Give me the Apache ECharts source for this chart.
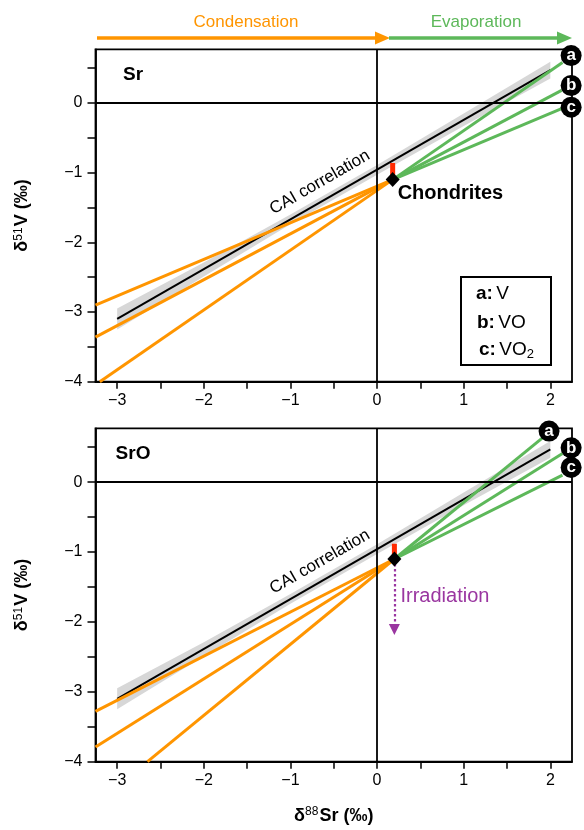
<!DOCTYPE html>
<html><head><meta charset="utf-8">
<script src="https://cdn.jsdelivr.net/npm/echarts@6/dist/echarts.min.js"></script>
<style>html,body{margin:0;padding:0;background:#fff}#c{width:584px;height:830px}</style>
</head><body><div id="c"></div>
<script>
const FONT = '"Liberation Sans", Arial, Helvetica, sans-serif';

// ---- tick values ----
const xTickLabels = [-3, -2, -1, 0, 1, 2];
const xTicks = [-3, -2.5, -2, -1.5, -1, -0.5, 0, 0.5, 1, 1.5, 2];
const yTickLabels = [-4, -3, -2, -1, 0];
const yTicks = [-4, -3.5, -3, -2.5, -2, -1.5, -1, -0.5, 0, 0.5];
const speciesNames = ['a', 'b', 'c'];
const legendNames = ['V', 'VO', 'VO2'];

// ---- CAI correlation (same in both panels) ----
const caiX = [-3, 2];
const caiY = [-3.1, 0.47];
const caiBandX = [-3, -2, -1, 0, 1, 2];
const caiBandUpper = [-2.95, -2.29, -1.60, -0.89, -0.15, 0.59];
const caiBandLower = [-3.25, -2.49, -1.74, -1.03, -0.33, 0.35];

// ---- Sr panel ----
const srChondrite = [0.18, -1.10];
const srBarTop = -0.86;
const srCondEndX = [-3.2, -3.25, -3.25];
const srCondEndY = [-4.0, -3.36, -2.90];
const srEvapEndX = [2.14, 2.13, 2.13];
const srEvapEndY = [0.58, 0.18, -0.08];
const srTagX = [2.24, 2.24, 2.24];
const srTagY = [0.68, 0.25, -0.06];

// ---- SrO panel ----
const sroChondrite = [0.20, -1.10];
const sroBarTop = -0.88;
const sroCondEndX = [-2.65, -3.25, -3.25];
const sroCondEndY = [-4.0, -3.79, -3.28];
const sroEvapEndX = [1.92, 2.14, 2.14];
const sroEvapEndY = [0.645, 0.41, 0.10];
const sroTagX = [1.985, 2.24, 2.24];
const sroTagY = [0.73, 0.49, 0.21];
const sroIrradiationEnd = -2.11;

const ORANGE = '#FF9500', GREEN = '#5DB85A', RED = '#FF2A00', PURPLE = '#9A36A0', BAND = '#D7D7D7';

const minus = v => String(v).replace('-', '\u2212');

function xAxisCfg(i, withName) {
  return {
    type: 'value', gridIndex: i, min: -3.25, max: 2.25,
    splitLine: { show: false },
    axisLine: { show: true, onZero: false, lineStyle: { color: '#000', width: 1.8 } },
    axisTick: { show: true, length: 7, customValues: xTicks, lineStyle: { color: '#000', width: 1.5 } },
    axisLabel: { customValues: xTickLabels, formatter: minus, color: '#000', fontSize: 16, fontFamily: FONT, margin: 11 },
    name: withName ? '{d|\u03b4}{s|88}{d|Sr (\u2030)}' : '',
    nameLocation: 'middle', nameGap: 44,
    nameTextStyle: { rich: {
      d: { fontSize: 18, fontWeight: 'bold', fontFamily: FONT, color: '#000', lineHeight: 20 },
      s: { fontSize: 12, fontFamily: FONT, color: '#000', verticalAlign: 'top', lineHeight: 20, padding: [0, 1, 0, 0] }
    } }
  };
}
function yAxisCfg(i) {
  return {
    type: 'value', gridIndex: i, min: -4, max: 0.77,
    splitLine: { show: false },
    axisLine: { show: true, onZero: false, lineStyle: { color: '#000', width: 1.8 } },
    axisTick: { show: true, length: 8, customValues: yTicks, lineStyle: { color: '#000', width: 1.5 } },
    axisLabel: { customValues: yTickLabels, formatter: minus, color: '#000', fontSize: 16, fontFamily: FONT, margin: 13 },
    name: '{d|\u03b4}{s|51}{d|V (\u2030)}',
    nameLocation: 'middle', nameGap: 63,
    nameTextStyle: { rich: {
      d: { fontSize: 18, fontWeight: 'bold', fontFamily: FONT, color: '#000', lineHeight: 20 },
      s: { fontSize: 12, fontFamily: FONT, color: '#000', verticalAlign: 'top', lineHeight: 20, padding: [0, 1, 0, 0] }
    } }
  };
}

function seg(i, p1, p2, color, width, z, type) {
  return {
    type: 'line', xAxisIndex: i, yAxisIndex: i, data: [p1, p2], showSymbol: false, symbol: 'none',
    lineStyle: { color: color, width: width, type: type || 'solid', cap: 'butt', opacity: 1 }, z: z, silent: true
  };
}

function panel(i, P) {
  const s = [];
  // zero reference lines
  s.push({
    type: 'line', xAxisIndex: i, yAxisIndex: i, data: [], z: 1, silent: true,
    markLine: { silent: true, symbol: 'none', label: { show: false },
      lineStyle: { color: '#000', width: 1.8, type: 'solid', opacity: 1 },
      data: [{ xAxis: 0 }, { yAxis: 0 }] }
  });
  // CAI band
  s.push({
    type: 'custom', xAxisIndex: i, yAxisIndex: i, z: 2, silent: true,
    data: caiBandX.map((x, k) => [x, caiBandUpper[k], caiBandLower[k]]),
    renderItem: function (params, api) {
      if (params.dataIndex !== 0) return null;
      const pts = [];
      for (let k = 0; k < caiBandX.length; k++) pts.push(api.coord([caiBandX[k], caiBandUpper[k]]));
      for (let k = caiBandX.length - 1; k >= 0; k--) pts.push(api.coord([caiBandX[k], caiBandLower[k]]));
      return { type: 'polygon', shape: { points: pts }, style: { fill: BAND } };
    }
  });
  // CAI line
  s.push(seg(i, [caiX[0], caiY[0]], [caiX[1], caiY[1]], '#000', 2, 3));
  // condensation & evaporation lines
  for (let k = 0; k < 3; k++) {
    s.push(seg(i, [P.condX[k], P.condY[k]], P.chon, ORANGE, 3, 4));
    s.push(seg(i, P.chon, [P.evapX[k], P.evapY[k]], GREEN, 3, 4));
  }
  // red bar
  s.push(seg(i, P.chon, [P.chon[0], P.barTop], RED, 5, 5));
  // irradiation arrow
  if (P.irr !== undefined) {
    s.push({
      type: 'line', xAxisIndex: i, yAxisIndex: i, data: [], z: 5, silent: true,
      markLine: { silent: true, symbol: ['none', 'triangle'], symbolSize: 11,
        label: { show: false },
        itemStyle: { color: PURPLE, opacity: 1 },
        lineStyle: { color: PURPLE, width: 2.2, type: [2.5, 2.5], opacity: 1 },
        data: [[{ coord: P.chon }, { coord: [P.chon[0], P.irr] }]] }
    });
    s.push({
      type: 'scatter', xAxisIndex: i, yAxisIndex: i, data: [[0.27, -1.64]], symbolSize: 0, z: 6, silent: true,
      itemStyle: { opacity: 1 },
      label: { show: true, position: 'right', distance: 0, formatter: 'Irradiation', color: PURPLE, fontSize: 20, fontFamily: FONT }
    });
  }
  // chondrite diamond
  s.push({
    type: 'scatter', xAxisIndex: i, yAxisIndex: i, data: [P.chon], symbol: 'diamond', symbolSize: [14, 15],
    itemStyle: { color: '#000', opacity: 1 }, z: 7, silent: true, clip: false,
    label: { show: !!P.chonLabel, position: 'right', offset: [-7, 14], formatter: 'Chondrites',
      color: '#000', fontWeight: 'bold', fontSize: 20, fontFamily: FONT }
  });
  // CAI correlation label
  s.push({
    type: 'scatter', xAxisIndex: i, yAxisIndex: i, data: [[-0.66, -1.14]], symbolSize: 0, z: 6, silent: true,
    itemStyle: { opacity: 1 },
    label: { show: true, position: 'inside', rotate: 30, formatter: 'CAI correlation', color: '#000', fontSize: 17, fontFamily: FONT }
  });
  // a/b/c tags
  s.push({
    type: 'scatter', xAxisIndex: i, yAxisIndex: i, clip: false, z: 8, silent: true,
    data: P.tagX.map((x, k) => [x, P.tagY[k]]), symbol: 'circle', symbolSize: 21,
    itemStyle: { color: '#000', opacity: 1 },
    label: { show: true, position: 'inside', formatter: p => speciesNames[p.dataIndex],
      color: '#fff', fontWeight: 'bold', fontSize: 17, fontFamily: FONT }
  });
  return s;
}

const series = [].concat(
  panel(0, { chon: srChondrite, barTop: srBarTop, condX: srCondEndX, condY: srCondEndY,
    evapX: srEvapEndX, evapY: srEvapEndY, tagX: srTagX, tagY: srTagY, chonLabel: true }),
  panel(1, { chon: sroChondrite, barTop: sroBarTop, condX: sroCondEndX, condY: sroCondEndY,
    evapX: sroEvapEndX, evapY: sroEvapEndY, tagX: sroTagX, tagY: sroTagY, irr: sroIrradiationEnd })
);

const legendRich = {
  b: { fontSize: 19, fontWeight: 'bold', fontFamily: FONT, fill: '#000' },
  n: { fontSize: 19, fontFamily: FONT, fill: '#000' },
  sub: { fontSize: 13, fontFamily: FONT, fill: '#000', verticalAlign: 'bottom', padding: [8, 0, 0, 0] }
};
function legendText(k) {
  const nm = legendNames[k];
  const body = nm.endsWith('2') ? '{n|' + nm.slice(0, -1) + '}{sub|2}' : '{n|' + nm + '}';
  return '{b|' + speciesNames[k] + ':} ' + body;
}

const chart = echarts.init(document.getElementById('c'), null, { renderer: 'canvas' });
chart.setOption({
  animation: false,
  backgroundColor: '#fff',
  textStyle: { color: '#000', fontFamily: FONT },
  grid: [
    { left: 95.5, top: 49.3, width: 476.5, height: 332.4, show: true, borderColor: '#000', borderWidth: 1.8, backgroundColor: 'transparent' },
    { left: 95.5, top: 428.3, width: 476.5, height: 333.4, show: true, borderColor: '#000', borderWidth: 1.8, backgroundColor: 'transparent' }
  ],
  xAxis: [xAxisCfg(0, false), xAxisCfg(1, true)],
  yAxis: [yAxisCfg(0), yAxisCfg(1)],
  series: series,
  graphic: [
    { type: 'line', shape: { x1: 97, y1: 38, x2: 378, y2: 38 }, style: { stroke: ORANGE, lineWidth: 3.5 } },
    { type: 'polygon', shape: { points: [[375, 31.5], [390, 38], [375, 44.5]] }, style: { fill: ORANGE } },
    { type: 'line', shape: { x1: 389, y1: 38, x2: 560, y2: 38 }, style: { stroke: GREEN, lineWidth: 3.5 } },
    { type: 'polygon', shape: { points: [[557, 31.5], [572, 38], [557, 44.5]] }, style: { fill: GREEN } },
    { type: 'text', style: { x: 246, y: 22, text: 'Condensation', fill: ORANGE, fontSize: 17, fontFamily: FONT, align: 'center', verticalAlign: 'middle' } },
    { type: 'text', style: { x: 476, y: 22, text: 'Evaporation', fill: GREEN, fontSize: 17, fontFamily: FONT, align: 'center', verticalAlign: 'middle' } },
    { type: 'text', style: { x: 133, y: 75, text: 'Sr', fill: '#000', fontSize: 19, fontWeight: 'bold', fontFamily: FONT, align: 'center', verticalAlign: 'middle' } },
    { type: 'text', style: { x: 133, y: 454, text: 'SrO', fill: '#000', fontSize: 19, fontWeight: 'bold', fontFamily: FONT, align: 'center', verticalAlign: 'middle' } },
    { type: 'rect', shape: { x: 461, y: 277, width: 90, height: 88 }, style: { fill: '#fff', stroke: '#000', lineWidth: 2 }, z: 50 },
    { type: 'text', z: 51, style: { x: 476, y: 294, text: legendText(0), rich: legendRich, verticalAlign: 'middle' } },
    { type: 'text', z: 51, style: { x: 477, y: 322.5, text: legendText(1), rich: legendRich, verticalAlign: 'middle' } },
    { type: 'text', z: 51, style: { x: 479, y: 350, text: legendText(2), rich: legendRich, verticalAlign: 'middle' } }
  ]
});
</script>
</body></html>
